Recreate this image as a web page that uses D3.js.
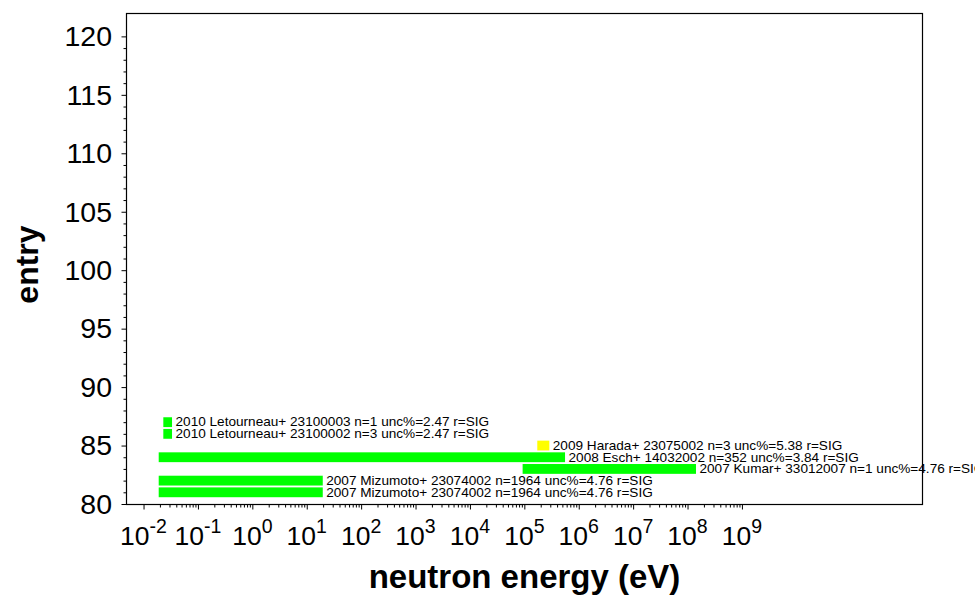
<!DOCTYPE html>
<html><head><meta charset="utf-8">
<script src="https://cdn.jsdelivr.net/npm/d3@7"></script>
<style>
body{margin:0;background:#fff}
svg{display:block;font-family:Arial,"Liberation Sans",Helvetica,sans-serif}
</style>
</head><body>
<svg id="c" width="975" height="595"></svg>
<script>
// ---- data ----
const entries = [81, 82, 83, 84, 85, 86, 87];
const labels = [
  "2007 Mizumoto+ 23074002 n=1964 unc%=4.76 r=SIG",
  "2007 Mizumoto+ 23074002 n=1964 unc%=4.76 r=SIG",
  "2007 Kumar+ 33012007 n=1 unc%=4.76 r=SIG",
  "2008 Esch+ 14032002 n=352 unc%=3.84 r=SIG",
  "2009 Harada+ 23075002 n=3 unc%=5.38 r=SIG",
  "2010 Letourneau+ 23100002 n=3 unc%=2.47 r=SIG",
  "2010 Letourneau+ 23100003 n=1 unc%=2.47 r=SIG"
];
const eLow  = [0.019, 0.019, 9.3e4, 0.019, 1.73e5, 0.0231, 0.0231];
const eHigh = [19.7, 19.7, 1.43e8, 5.6e5, 2.88e5, 0.0334, 0.0334];
const barColors = ["#00ff00", "#00ff00", "#00ff00", "#00ff00", "#ffff00", "#00ff00", "#00ff00"];
const xDomain = [4.76e-3, 2.13e12];
const yDomain = [80, 122];
const xMajorExp = [-2, -1, 0, 1, 2, 3, 4, 5, 6, 7, 8, 9];
const yMajor = [80, 85, 90, 95, 100, 105, 110, 115, 120];
const yMinor = d3.range(81, 120).filter(v => v % 5 !== 0);
const xTitle = "neutron energy (eV)";
const yTitle = "entry";

// ---- layout ----
const L = 126, R = 923, T = 13, B = 504;
const svg = d3.select("#c");
const x = d3.scaleLog().domain(xDomain).range([L, R]);
const y = d3.scaleLinear().domain(yDomain).range([B, T]);

// bars
const rows = entries.map((e, i) => ({e, lo: eLow[i], hi: eHigh[i], c: barColors[i], t: labels[i]}));
svg.append("g").selectAll("rect").data(rows).join("rect")
  .attr("x", d => x(d.lo))
  .attr("width", d => x(d.hi) - x(d.lo))
  .attr("y", d => y(d.e + 0.42))
  .attr("height", d => y(d.e - 0.42) - y(d.e + 0.42))
  .attr("fill", d => d.c);

svg.append("g").selectAll("text").data(rows).join("text")
  .attr("x", d => x(d.hi) + 3.5)
  .attr("y", d => y(d.e) + 4.3)
  .attr("font-size", 13.6)
  .attr("fill", "#000")
  .text(d => d.t);

// frame
svg.append("rect").attr("x", L + 0.5).attr("y", T + 0.5)
  .attr("width", R - L - 1).attr("height", B - T)
  .attr("fill", "none").attr("stroke", "#000").attr("stroke-width", 1.2);

// y axis
const yAxisMajor = d3.axisLeft(y).tickValues(yMajor).tickSize(5).tickFormat("");
const yAxisMinor = d3.axisLeft(y).tickValues(yMinor).tickSize(3).tickFormat("");
[yAxisMajor, yAxisMinor].forEach(a => {
  const g = svg.append("g").attr("transform", `translate(${L + 0.5},0)`).call(a);
  g.select(".domain").remove();
  g.selectAll("line").attr("stroke", "#000");
});
svg.append("g").selectAll("text").data(yMajor).join("text")
  .attr("x", 112).attr("y", d => y(d) + 9.8)
  .attr("text-anchor", "end").attr("font-size", 28.5)
  .text(d => d);

// x axis
const xMajor = xMajorExp.map(p => Math.pow(10, p));
const xMinor = [];
xMajorExp.slice(0, -1).forEach(p => { for (let k = 2; k <= 9; k++) xMinor.push(k * Math.pow(10, p)); });
const xAxisMajor = d3.axisBottom(x).tickValues(xMajor).tickSize(5).tickFormat("");
const xAxisMinor = d3.axisBottom(x).tickValues(xMinor).tickSize(3).tickFormat("");
[xAxisMajor, xAxisMinor].forEach(a => {
  const g = svg.append("g").attr("transform", `translate(0,${B + 0.5})`).call(a);
  g.select(".domain").remove();
  g.selectAll("line").attr("stroke", "#000");
});
const xl = svg.append("g").selectAll("text").data(xMajorExp).join("text")
  .attr("x", d => x(Math.pow(10, d))).attr("y", 545)
  .attr("text-anchor", "middle").attr("font-size", 26.5);
xl.append("tspan").text("10");
xl.append("tspan").attr("dy", -12).attr("font-size", 19.5).text(d => String(d));

// titles
svg.append("text").attr("x", (L + R) / 2).attr("y", 588)
  .attr("text-anchor", "middle").attr("font-size", 33).attr("font-weight", "bold")
  .text(xTitle);
svg.append("text").attr("transform", `translate(38,${(T + B) / 2 + 6}) rotate(-90)`)
  .attr("text-anchor", "middle").attr("font-size", 32).attr("font-weight", "bold")
  .text(yTitle);
</script>
</body></html>
